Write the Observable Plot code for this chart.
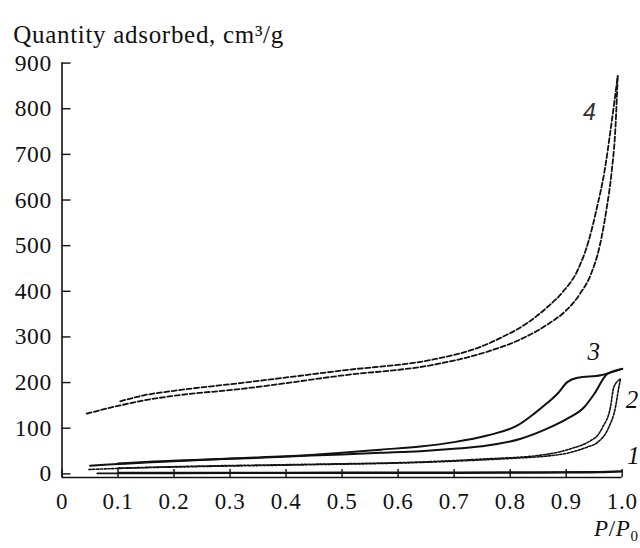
<!DOCTYPE html>
<html>
<head>
<meta charset="utf-8">
<script src="https://cdn.jsdelivr.net/npm/d3@7"></script>
<script src="https://cdn.jsdelivr.net/npm/@observablehq/plot@0.6"></script>
<style>
  html, body { margin: 0; padding: 0; background: #fff; }
  svg text { letter-spacing: 0.7px; }
</style>
</head>
<body>
<div id="chart"></div>
<script>
// Tick values
const xTicks = [0, 0.1, 0.2, 0.3, 0.4, 0.5, 0.6, 0.7, 0.8, 0.9, 1.0];
const yTicks = [0, 100, 200, 300, 400, 500, 600, 700, 800, 900];

// Curve 1 (solid, near zero)
const c1AdsX = [0.063, 0.2, 0.4, 0.6, 0.8, 0.9, 0.96, 1.0];
const c1AdsY = [1.2, 1.3, 1.5, 1.7, 2.0, 2.5, 3.2, 5.0];
const c1DesX = [0.1, 0.3, 0.5, 0.7, 0.85, 0.95, 1.0];
const c1DesY = [2.6, 2.8, 3.0, 3.3, 3.7, 4.3, 5.9];

// Curve 2 (fine dotted)
const c2AdsX = [0.048, 0.14, 0.247, 0.444, 0.64, 0.759, 0.819, 0.866, 0.908, 0.938, 0.956, 0.976, 0.988, 0.994, 0.997];
const c2AdsY = [9.6, 13.3, 16, 20, 25, 31, 35, 39, 47, 59, 69, 102, 146, 190, 208];
const c2DesX = [0.1, 0.247, 0.444, 0.64, 0.759, 0.849, 0.908, 0.944, 0.956, 0.965, 0.979, 0.985, 0.997];
const c2DesY = [12.5, 17, 21, 26, 33, 40, 55, 73, 84, 102, 146, 190, 208];

// Curve 3 (solid)
const c3AdsX = [0.05, 0.1, 0.15, 0.247, 0.35, 0.444, 0.5, 0.569, 0.64, 0.70, 0.759, 0.819, 0.866, 0.902, 0.932, 0.95, 0.9735, 1.0];
const c3AdsY = [18, 21.5, 25, 30.5, 35, 40, 42.5, 46, 49.7, 55, 62, 77, 99, 121, 146, 175, 219, 230];
const c3DesX = [0.1, 0.15, 0.247, 0.35, 0.444, 0.5, 0.569, 0.64, 0.70, 0.759, 0.813, 0.843, 0.866, 0.884, 0.902, 0.92, 0.9616, 1.0];
const c3DesY = [22.5, 26, 31, 36, 41.5, 46, 53, 60, 69.5, 84, 106, 132, 155, 175, 201, 210.5, 216, 230];

// Curve 4 (dashed)
const c4AdsX = [0.044, 0.104, 0.146, 0.2, 0.319, 0.497, 0.676, 0.76, 0.819, 0.87, 0.9, 0.925, 0.945, 0.96, 0.972, 0.981, 0.988, 0.992];
const c4AdsY = [132, 150, 161, 171, 186, 215, 242, 268, 295, 330, 358, 395, 440, 500, 580, 660, 760, 872];
const c4DesX = [0.104, 0.146, 0.2, 0.319, 0.497, 0.676, 0.74, 0.783, 0.83, 0.866, 0.895, 0.92, 0.94, 0.955, 0.968, 0.98, 0.992];
const c4DesY = [159, 172, 182, 199, 226, 254, 275, 298, 330, 365, 400, 445, 510, 584, 660, 760, 872];

// Curve labels
const labelText = ["1", "2", "3", "4"];
const labelX = [1.021, 1.018, 0.950, 0.942];
const labelY = [40, 161, 266, 792];

const titleText = "Quantity adsorbed, cm³/g";
const xLabelText = "P/P0";

function rows(curve, branch, xs, ys) {
  return xs.map((x, i) => ({curve, branch, x, y: ys[i]}));
}
const curve1 = [...rows(1, "ads", c1AdsX, c1AdsY), ...rows(1, "des", c1DesX, c1DesY)];
const curve2 = [...rows(2, "ads", c2AdsX, c2AdsY), ...rows(2, "des", c2DesX, c2DesY)];
const curve3 = [...rows(3, "ads", c3AdsX, c3AdsY), ...rows(3, "des", c3DesX, c3DesY)];
const curve4 = [...rows(4, "ads", c4AdsX, c4AdsY), ...rows(4, "des", c4DesX, c4DesY)];
const labels = labelText.map((t, i) => ({t, x: labelX[i], y: labelY[i]}));

const ink = "#111";

const chart = Plot.plot({
  width: 640,
  height: 548,
  marginLeft: 61.5,
  marginRight: 18.3,
  marginTop: 62.6,
  marginBottom: 71,
  x: {domain: [0, 1]},
  y: {domain: [-8, 900]},
  style: {fontFamily: "'Liberation Serif', 'Times New Roman', serif", fontSize: "23px", color: ink, background: "#fff"},
  marks: [
    Plot.ruleX([0], {stroke: ink, strokeWidth: 1.6}),
    Plot.ruleY([-8], {stroke: ink, strokeWidth: 1.6}),
    Plot.axisX({ticks: xTicks, tickSize: -8, tickPadding: 23, strokeWidth: 1.4, fontSize: 23,
      tickFormat: d => d === 0 ? "0" : d.toFixed(1), label: null}),
    Plot.axisY({ticks: yTicks, tickSize: -9, tickPadding: 19, strokeWidth: 1.4, fontSize: 23.5, label: null}),
    Plot.line(curve1, {x: "x", y: "y", z: "branch", stroke: ink, strokeWidth: 1.8, curve: "monotone-x"}),
    Plot.line(curve2, {x: "x", y: "y", z: "branch", stroke: ink, strokeWidth: 1.6, strokeDasharray: "2.2,1.6", curve: "monotone-x"}),
    Plot.line(curve3, {x: "x", y: "y", z: "branch", stroke: ink, strokeWidth: 2, curve: "monotone-x"}),
    Plot.line(curve4, {x: "x", y: "y", z: "branch", stroke: ink, strokeWidth: 1.8, strokeDasharray: "5,2.5", curve: "monotone-x"}),
    Plot.text(labels.filter(d => d.t !== "4"), {x: "x", y: "y", text: "t", fontStyle: "italic", fontSize: 25, fill: ink}),
    Plot.text(labels.filter(d => d.t === "4"), {x: "x", y: "y", text: "t", fontStyle: "italic", fontSize: 23, fill: "#333", fontFamily: "'Liberation Sans', Arial, sans-serif"}),
    Plot.text([titleText], {frameAnchor: "top-left", dx: -48.8, dy: -37.6, textAnchor: "start", fontSize: 25, fill: ink}),
    Plot.text([xLabelText], {frameAnchor: "bottom-right", dx: 16.5, dy: 58, textAnchor: "end", fontSize: 23, fill: ink})
  ]
});
document.getElementById("chart").appendChild(chart);

// Style the P/P0 label: italic P, subscript 0
d3.select(chart).selectAll("text").filter(function() { return this.textContent === xLabelText; }).each(function() {
  const t = d3.select(this);
  t.text(null);
  t.append("tspan").attr("font-style", "italic").text("P");
  t.append("tspan").text("/");
  t.append("tspan").attr("font-style", "italic").text("P");
  t.append("tspan").attr("font-size", "15px").attr("dy", "5").text("0");
});
</script>
</body>
</html>
